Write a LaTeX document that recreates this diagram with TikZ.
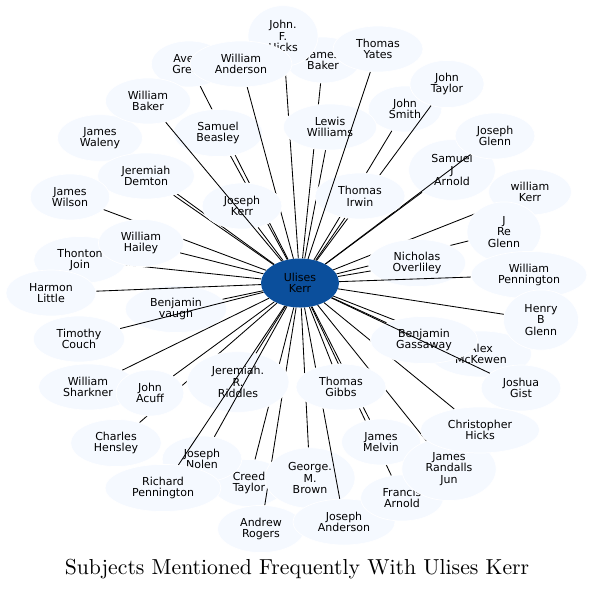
\documentclass[tikz,border=0pt]{standalone}
\usepackage{fontspec}
\usetikzlibrary{shapes.geometric}
\newfontfamily\nodefont{DejaVu Sans}
\newfontfamily\titlefont{lmroman10-regular.otf}
\definecolor{nodefill}{RGB}{245,249,255}
\definecolor{centerfill}{RGB}{11,79,156}
\tikzset{
  pnode/.style={ellipse, fill=nodefill, draw=white, line width=0.7pt, inner xsep=10pt, inner ysep=5.5pt,
    minimum width=66pt, minimum height=46pt, align=center, font={\nodefont\fontsize{11}{11.7}\selectfont}},
  cnode/.style={ellipse, inner xsep=8pt, inner ysep=5pt, minimum width=78pt, minimum height=49pt,
    align=center, font={\nodefont\fontsize{11}{11.7}\selectfont}},
  link/.style={draw=black, line width=0.85pt}
}
\newcommand{\pers}[3]{\node[pnode] (#1) at #2 {#3}; \draw[link] (c) -- (#1);}
\begin{document}
\begin{tikzpicture}[x=1pt,y=-1pt]
\useasboundingbox (0,0) rectangle (594,590);
\node[cnode] (c) at (300,283) {\phantom{Ulises}\\\phantom{Kerr}};
\pers{jb}{(323,60)}{James\\Baker}
\pers{jfh}{(283,36)}{John.\\F.\\Hicks}
\pers{js}{(405,109)}{John\\Smith}
\pers{jt}{(447,84)}{John\\Taylor}
\pers{lw}{(330,127)}{Lewis\\Williams}
\pers{sja}{(452,170)}{Samuel\\J\\Arnold}
\pers{jgl}{(495,136)}{Joseph\\Glenn}
\pers{ti}{(360,196)}{Thomas\\Irwin}
\pers{ty}{(378,49)}{Thomas\\Yates}
\pers{wk}{(530,192)}{william\\Kerr}
\pers{ag}{(189,64)}{Avery\\Green}
\pers{sb}{(218,133)}{Samuel\\Beasley}
\pers{wa}{(241,64)}{William\\Anderson}
\pers{jwa}{(100,138)}{James\\Waleny}
\pers{jd}{(146,176)}{Jeremiah\\Demton}
\pers{jk}{(242,206)}{Joseph\\Kerr}
\pers{wb}{(148,101)}{William\\Baker}
\pers{jwi}{(70,197)}{James\\Wilson}
\pers{tj}{(80,260)}{Thonton\\Join}
\pers{wh}{(141,243)}{William\\Hailey}
\pers{bv}{(176,309)}{Benjamin\\vaugh}
\pers{hl}{(51,293)}{Harmon\\Little}
\pers{tc}{(79,339)}{Timothy\\Couch}
\pers{ws}{(88,387)}{William\\Sharkner}
\pers{ch}{(116,443)}{Charles\\Hensley}
\pers{jac}{(150,393)}{John\\Acuff}
\pers{ct}{(249,483)}{Creed\\Taylor}
\pers{ar}{(261,529)}{Andrew\\Rogers}
\pers{jrr}{(238,382)}{Jeremiah.\\R.\\Riddles}
\pers{jn}{(202,459)}{Joseph\\Nolen}
\pers{rp}{(163,488)}{Richard\\Pennington}
\pers{gb}{(310,478)}{George.\\M.\\Brown}
\pers{jan}{(344,522)}{Joseph\\Anderson}
\pers{fa}{(402,498)}{Francis\\Arnold}
\pers{jm}{(381,442)}{James\\Melvin}
\pers{jrj}{(449,469)}{James\\Randalls\\Jun}
\pers{tg}{(341,387)}{Thomas\\Gibbs}
\pers{chi}{(480,430)}{Christopher\\Hicks}
\pers{am}{(481,354)}{Alex\\McKewen}
\pers{bg}{(424,340)}{Benjamin\\Gassaway}
\pers{jgi}{(521,388)}{Joshua\\Gist}
\pers{jrg}{(504,232)}{J\\Re\\Glenn}
\pers{no}{(417,263)}{Nicholas\\Overliley}
\pers{wp}{(529,275)}{William\\Pennington}
\pers{hbg}{(541,320)}{Henry\\B\\Glenn}
\node[cnode, fill=centerfill] (cv) at (c) {Ulises\\Kerr};
\node[font={\titlefont\fontsize{21.7}{24}\selectfont}] (title) at (297,569) {Subjects Mentioned Frequently With Ulises Kerr};
\end{tikzpicture}
\end{document}
